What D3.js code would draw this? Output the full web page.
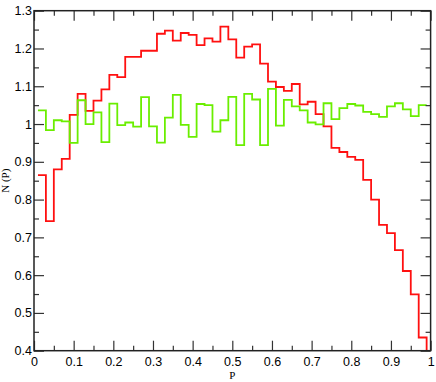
<!DOCTYPE html>
<html>
<head>
<meta charset="utf-8">
<script src="https://cdn.jsdelivr.net/npm/d3@7"></script>
<style>
  body { margin: 0; background: #fff; }
  .tick text { font-family: "Liberation Sans", Arial, sans-serif; font-size: 12.5px; fill: #000; }
  .tick line { stroke: #333; }
  .title { font-family: "Liberation Serif", "Times New Roman", serif; font-size: 11px; fill: #000; }
</style>
</head>
<body>
<svg id="chart" width="436" height="382"></svg>
<script>
// bin centres on the P axis
const P = [0.02, 0.04, 0.06, 0.08, 0.10, 0.12, 0.14, 0.16, 0.18, 0.20,
           0.22, 0.24, 0.26, 0.28, 0.30, 0.32, 0.34, 0.36, 0.38, 0.40,
           0.42, 0.44, 0.46, 0.48, 0.50, 0.52, 0.54, 0.56, 0.58, 0.60,
           0.62, 0.64, 0.66, 0.68, 0.70, 0.72, 0.74, 0.76, 0.78, 0.80,
           0.82, 0.84, 0.86, 0.88, 0.90, 0.92, 0.94, 0.96, 0.98, 1.00];

const redN = [0.865, 0.743, 0.880, 0.908, 1.024, 1.080, 1.035, 1.062, 1.092, 1.130,
              1.124, 1.178, 1.178, 1.194, 1.194, 1.239, 1.247, 1.221, 1.241, 1.236,
              1.209, 1.227, 1.218, 1.258, 1.224, 1.176, 1.205, 1.211, 1.160, 1.112,
              1.098, 1.088, 1.106, 1.052, 1.059, 1.026, 0.994, 0.937, 0.926, 0.913,
              0.905, 0.852, 0.800, 0.733, 0.711, 0.666, 0.611, 0.549, 0.435, 0.380];

const greenN = [1.036, 0.984, 1.010, 1.007, 0.950, 1.063, 1.000, 1.031, 0.952, 1.054,
                0.997, 1.004, 0.993, 1.071, 0.994, 0.951, 1.017, 1.077, 0.998, 0.966,
                1.053, 1.050, 0.980, 1.010, 1.072, 0.944, 1.080, 1.065, 0.944, 1.093,
                0.996, 1.064, 1.047, 1.036, 1.004, 0.999, 1.055, 1.013, 1.042, 1.053,
                1.049, 1.032, 1.026, 1.019, 1.047, 1.055, 1.039, 1.021, 1.050];

const xTicks = [0, 0.1, 0.2, 0.3, 0.4, 0.5, 0.6, 0.7, 0.8, 0.9, 1];
const xMinor = [0.05, 0.15, 0.25, 0.35, 0.45, 0.55, 0.65, 0.75, 0.85, 0.95];
const yTicks = [0.4, 0.5, 0.6, 0.7, 0.8, 0.9, 1, 1.1, 1.2, 1.3];
const yMinor = [0.45, 0.55, 0.65, 0.75, 0.85, 0.95, 1.05, 1.15, 1.25];

const margin = { top: 10.7, left: 34 },
  width = 396.6,
  height = 340,
  halfBin = 0.01;

const svg = d3.select('#chart');
const g = svg.append('g')
  .attr('transform', 'translate(' + margin.left + ',' + margin.top + ')');

const x = d3.scaleLinear().domain([0, 1]).range([0, width]);
const y = d3.scaleLinear().domain([0.4, 1.3]).range([height, 0]);

const fmt = d => String(+d.toFixed(2));

g.append('clipPath').attr('id', 'clip')
  .append('rect').attr('width', width).attr('height', height);

// step histogram: each value is a flat segment one bin wide
const stepLine = d3.line().x(d => x(d[0])).y(d => y(d[1]));
const steps = vals => vals.flatMap((v, i) => [[P[i] - halfBin, v], [P[i] + halfBin, v]]);

g.append('path')
  .datum(steps(redN))
  .attr('clip-path', 'url(#clip)')
  .attr('fill', 'none')
  .attr('stroke', '#ff1010')
  .attr('stroke-width', 1.8)
  .attr('d', stepLine);

g.append('path')
  .datum(steps(greenN))
  .attr('clip-path', 'url(#clip)')
  .attr('fill', 'none')
  .attr('stroke', '#6aee00')
  .attr('stroke-width', 1.8)
  .attr('d', stepLine);

// axes, ticks pointing inward on all four sides
function addAxis(axis, tx, ty) {
  const a = g.append('g').attr('transform', 'translate(' + tx + ',' + ty + ')').call(axis);
  a.select('.domain').remove();
  return a;
}

addAxis(d3.axisBottom(x).tickValues(xTicks).tickFormat(fmt).tickSizeInner(-10).tickPadding(6), 0, height);
addAxis(d3.axisBottom(x).tickValues(xMinor).tickFormat('').tickSizeInner(-5), 0, height);
addAxis(d3.axisTop(x).tickValues(xTicks).tickFormat('').tickSizeInner(-10), 0, 0);
addAxis(d3.axisTop(x).tickValues(xMinor).tickFormat('').tickSizeInner(-5), 0, 0);

addAxis(d3.axisLeft(y).tickValues(yTicks).tickFormat(fmt).tickSizeInner(-10).tickPadding(2), 0, 0);
addAxis(d3.axisLeft(y).tickValues(yMinor).tickFormat('').tickSizeInner(-5), 0, 0);
addAxis(d3.axisRight(y).tickValues(yTicks).tickFormat('').tickSizeInner(-10), width, 0);
addAxis(d3.axisRight(y).tickValues(yMinor).tickFormat('').tickSizeInner(-5), width, 0);

g.selectAll('.tick line').attr('stroke-width', 1.2);

g.append('rect')
  .attr('width', width)
  .attr('height', height)
  .attr('fill', 'none')
  .attr('stroke', '#222')
  .attr('stroke-width', 1.5);

g.append('text')
  .attr('class', 'title')
  .attr('text-anchor', 'middle')
  .attr('x', width / 2)
  .attr('y', height + 28)
  .text('P');

g.append('text')
  .attr('class', 'title')
  .attr('text-anchor', 'middle')
  .attr('transform', 'rotate(-90)')
  .attr('x', -height / 2)
  .attr('y', -25)
  .text('N (P)');
</script>
</body>
</html>
